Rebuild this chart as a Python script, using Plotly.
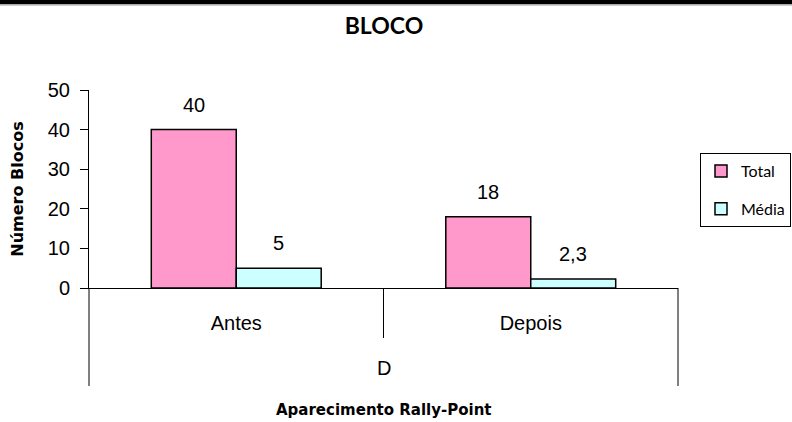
import plotly.graph_objects as go

categories = ["Antes", "Depois"]
group_label = "D"
series_names = ["Total", "Média"]
total_values = [40, 18]
media_values = [5, 2.3]
colors = ["#FF99CC", "#CCFFFF"]
y_ticks = [0, 10, 20, 30, 40, 50]

W, H = 792, 422
L, R, T, B = 89, 114, 90, 134
plot_h = H - T - B
plot_w = W - L - R

def fmt(v):
    s = f"{v:g}"
    return s.replace(".", ",")

fig = go.Figure()
for name, vals, col in zip(series_names, [total_values, media_values], colors):
    fig.add_trace(go.Bar(
        x=categories, y=vals, name=name, legendgroup=name,
        marker=dict(color=col, line=dict(color="black", width=1.5)),
    ))

# data labels above bars
bar_px = plot_w / len(categories) * (1 - 0.423) / 2
for i, vals in enumerate([total_values, media_values]):
    shift = (-0.5 if i == 0 else 0.5) * bar_px
    for c, v in zip(categories, vals):
        fig.add_annotation(x=c, y=v, text=fmt(v), showarrow=False,
                           xshift=shift, yshift=25, yanchor="middle",
                           font=dict(family="Liberation Sans, Arial", size=20, color="black"))

# group label "D"
fig.add_annotation(x=0.5, y=-(368 - (H - B)) / plot_h, xref="paper", yref="paper",
                   text=group_label, showarrow=False, yanchor="middle",
                   font=dict(family="Liberation Sans, Arial", size=20, color="black"))

# x axis title
fig.add_annotation(x=0.5, y=-(410 - (H - B)) / plot_h, xref="paper", yref="paper",
                   text="<b>Aparecimento Rally-Point</b>", showarrow=False, yanchor="middle",
                   font=dict(family="DejaVu Sans", size=15, color="black"))

# dividers
ybot_outer = -(386 - (H - B)) / plot_h
ybot_inner = -(338 - (H - B)) / plot_h
for xp, yb in [(0, ybot_outer), (0.5, ybot_inner), (1, ybot_outer)]:
    fig.add_shape(type="line", xref="paper", yref="paper", x0=xp, x1=xp, y0=0, y1=yb,
                  line=dict(color="black", width=1))

# top black band
x_left = -L / plot_w
x_right = (W - L) / plot_w
fig.add_shape(type="rect", xref="paper", yref="paper", x0=x_left, x1=x_right,
              y0=(H - B - 4.3) / plot_h, y1=(H - B + 2) / plot_h,
              fillcolor="black", line=dict(width=0))
fig.add_shape(type="line", xref="paper", yref="paper", x0=x_left, x1=x_right,
              y0=(H - B - 5) / plot_h, y1=(H - B - 5) / plot_h,
              line=dict(color="#999999", width=1))

fig.update_layout(
    width=W, height=H,
    margin=dict(l=L, r=R, t=T, b=B, autoexpand=False),
    paper_bgcolor="white", plot_bgcolor="white",
    barmode="group", bargap=0.423, bargroupgap=0,
    title=dict(text="<b>BLOCO</b>", x=384 / W, xanchor="center", y=1 - 26 / H, yanchor="middle",
               font=dict(family="Lato, DejaVu Sans", size=23, color="black")),
    legend=dict(x=(700 - L) / plot_w, xanchor="left", y=(H - B - 153) / plot_h, yanchor="top",
                bordercolor="black", borderwidth=1, bgcolor="white",
                font=dict(family="Lato, DejaVu Sans", size=16, color="black"),
                tracegroupgap=14, itemwidth=30),
    showlegend=True,
)
fig.update_xaxes(showline=True, linecolor="black", linewidth=1, ticks="",
                 ticklabelstandoff=17, showgrid=False,
                 tickfont=dict(family="Liberation Sans, Arial", size=20, color="black"))
fig.update_yaxes(range=[0, 50], tickvals=y_ticks, showline=True, linecolor="black", linewidth=1,
                 ticks="outside", ticklen=8, tickcolor="black", showgrid=False, zeroline=False,
                 ticklabelstandoff=6,
                 tickfont=dict(family="Liberation Sans, Arial", size=20, color="black"),
                 title=dict(text="<b>Número Blocos</b>", standoff=20,
                            font=dict(family="DejaVu Sans", size=16, color="black")))

fig.write_html("out.html", config={"displayModeBar": False},
               post_script="document.body.style.margin='0';")
